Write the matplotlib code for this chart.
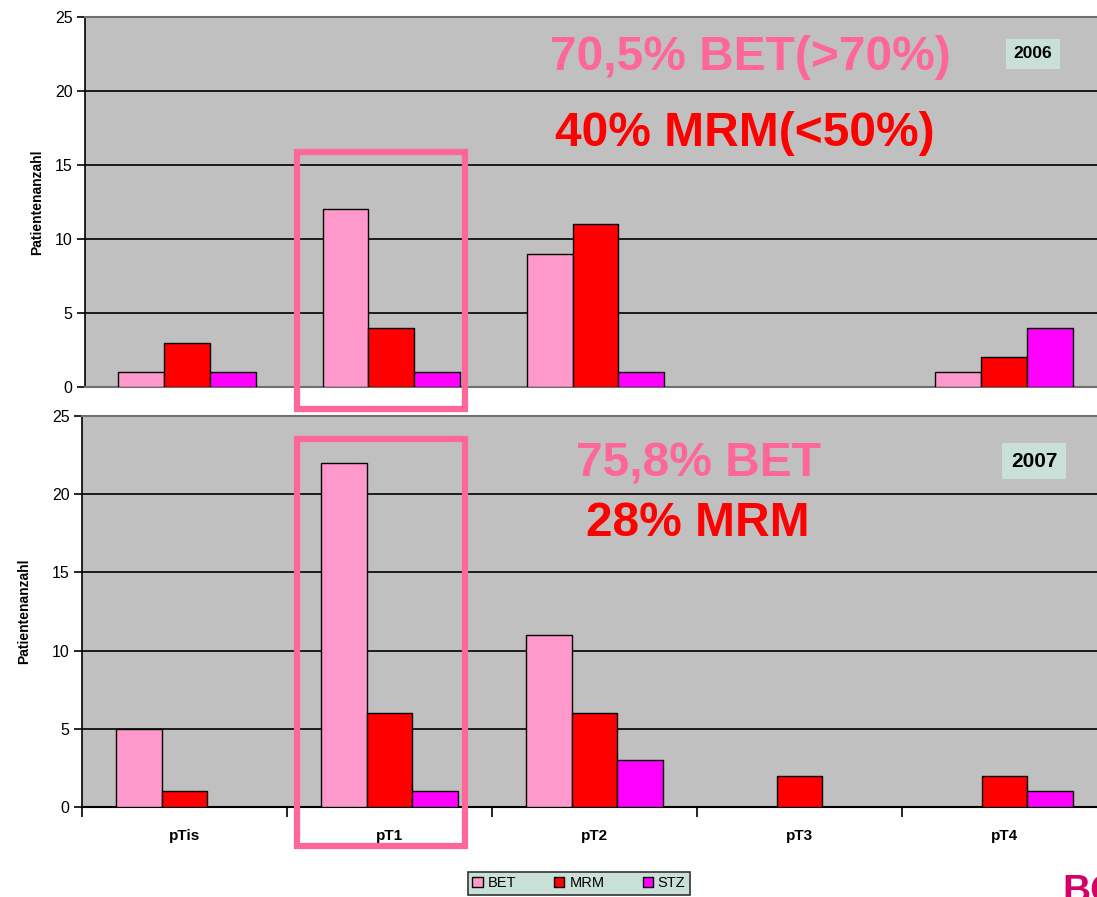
import matplotlib
matplotlib.use("Agg")
import matplotlib.pyplot as plt
import numpy as np
from matplotlib.patches import Rectangle, Patch

plt.rcParams['font.family'] = ['Liberation Sans', 'DejaVu Sans']

categories = ["pTis", "pT1", "pT2", "pT3", "pT4"]
series_names = ["BET", "MRM", "STZ"]
bet_2006 = [1, 12, 9, 0, 1]
mrm_2006 = [3, 4, 11, 0, 2]
stz_2006 = [1, 1, 1, 0, 4]
bet_2007 = [5, 22, 11, 0, 0]
mrm_2007 = [1, 6, 6, 2, 2]
stz_2007 = [0, 1, 3, 0, 1]
yticks = [0, 5, 10, 15, 20, 25]

colors = ["#ff99cc", "#ff0000", "#ff00ff"]
pink_text = "#ff6699"
red_text = "#ff0000"
plot_bg = "#c0c0c0"
box_bg = "#c8e0d8"

W, H = 1097, 897
fig = plt.figure(figsize=(W / 100, H / 100), dpi=100)


def px_axes(left, top, right, bottom):
    return fig.add_axes([left / W, 1 - bottom / H, (right - left) / W, (bottom - top) / H])


def draw_bars(ax, values_list):
    x = np.arange(len(categories))
    width = 0.224
    offsets = [-width, 0, width]
    for vals, off, col, name in zip(values_list, offsets, colors, series_names):
        v = np.array(vals, dtype=float)
        mask = v > 0
        ax.bar(x[mask] + off, v[mask], width=width, color=col, edgecolor="black",
               linewidth=1.0, zorder=3, label=name)
    ax.set_xlim(-0.5, len(categories) - 0.5)
    ax.set_ylim(0, 25)
    ax.set_facecolor(plot_bg)
    ax.set_yticks(yticks)
    ax.yaxis.grid(True, color="black", linewidth=1.2, zorder=1)
    ax.set_axisbelow(True)
    ax.tick_params(axis="y", labelsize=11.5, length=6, width=1.2, direction="out", pad=3)
    for s in ["top", "right"]:
        ax.spines[s].set_visible(False)
    ax.spines["left"].set_color("black")
    ax.spines["left"].set_linewidth(1.2)
    ax.spines["bottom"].set_color("#707070")
    ax.spines["bottom"].set_linewidth(1.5)


# 2006 panel
ax1 = px_axes(85, 17, 1106, 387)
draw_bars(ax1, [bet_2006, mrm_2006, stz_2006])
ax1.set_ylabel("Patientenanzahl", fontsize=10, fontweight="bold", labelpad=8)
ax1.set_xticks([])
ax1.spines["top"].set_visible(True)
ax1.spines["top"].set_color("#707070")
ax1.spines["top"].set_linewidth(1.5)

# 2007 panel
ax2 = px_axes(82, 416, 1107, 807)
draw_bars(ax2, [bet_2007, mrm_2007, stz_2007])
ax2.set_ylabel("Patientenanzahl", fontsize=10, fontweight="bold", labelpad=15)
ax2.spines["top"].set_visible(True)
ax2.spines["top"].set_color("#707070")
ax2.spines["top"].set_linewidth(1.5)
ax2.spines["bottom"].set_color("black")
ax2.set_xticks(np.arange(len(categories)))
ax2.set_xticklabels(categories, fontsize=11, fontweight="bold")
ax2.tick_params(axis="x", length=0, pad=16)
ax2.set_xticks(np.arange(len(categories) + 1) - 0.5, minor=True)
ax2.tick_params(axis="x", which="minor", length=7, width=1.2, direction="out")


def fig_text(x, y, s, **kw):
    fig.text(x / W, 1 - y / H, s, **kw)


# Headline percentages
fig_text(750, 57, "70,5% BET(>70%)", fontsize=34.5, fontweight="bold", color=pink_text,
         ha="center", va="center")
fig_text(745, 133, "40% MRM(<50%)", fontsize=34.5, fontweight="bold", color=red_text,
         ha="center", va="center")
fig_text(698, 464, "75,8% BET", fontsize=34.5, fontweight="bold", color=pink_text,
         ha="center", va="center")
fig_text(698, 524, "28% MRM", fontsize=34.5, fontweight="bold", color=red_text,
         ha="center", va="center")

# Year tags
fig_text(1033, 54, "2006", fontsize=12.5, fontweight="bold", color="black",
         ha="center", va="center",
         bbox=dict(boxstyle="square,pad=0.45", facecolor=box_bg, edgecolor="none"))
fig_text(1034, 461, "2007", fontsize=15, fontweight="bold", color="black",
         ha="center", va="center",
         bbox=dict(boxstyle="square,pad=0.4", facecolor=box_bg, edgecolor="none"))

# Highlight frames around pT1
for (l, t, r, b) in [(297, 152, 465, 409), (297, 439, 465, 846)]:
    fig.patches.append(Rectangle((l / W, 1 - b / H), (r - l) / W, (b - t) / H,
                                 transform=fig.transFigure, fill=False,
                                 edgecolor=pink_text, linewidth=4.5, zorder=10))

# Legend
handles = [Patch(facecolor=c, edgecolor="black", linewidth=1.0) for c in colors]
leg = fig.legend(handles, series_names, loc="upper center", ncol=3,
                 bbox_to_anchor=(579 / W, 1 - 872 / H), fontsize=10.5,
                 frameon=True, fancybox=False, handlelength=0.7, handleheight=0.7,
                 handletextpad=0.35, columnspacing=2.6, borderpad=0.3,
                 borderaxespad=0)
leg.get_frame().set_facecolor(box_bg)
leg.get_frame().set_edgecolor("#333333")
leg.get_frame().set_linewidth(1.2)
leg.get_frame().set_alpha(1)

# Corner logo fragment
fig_text(1062, 874, "BC", fontsize=28, fontweight="bold", color="#d4006a",
         ha="left", va="top")

fig.savefig("out.png", dpi=100)
